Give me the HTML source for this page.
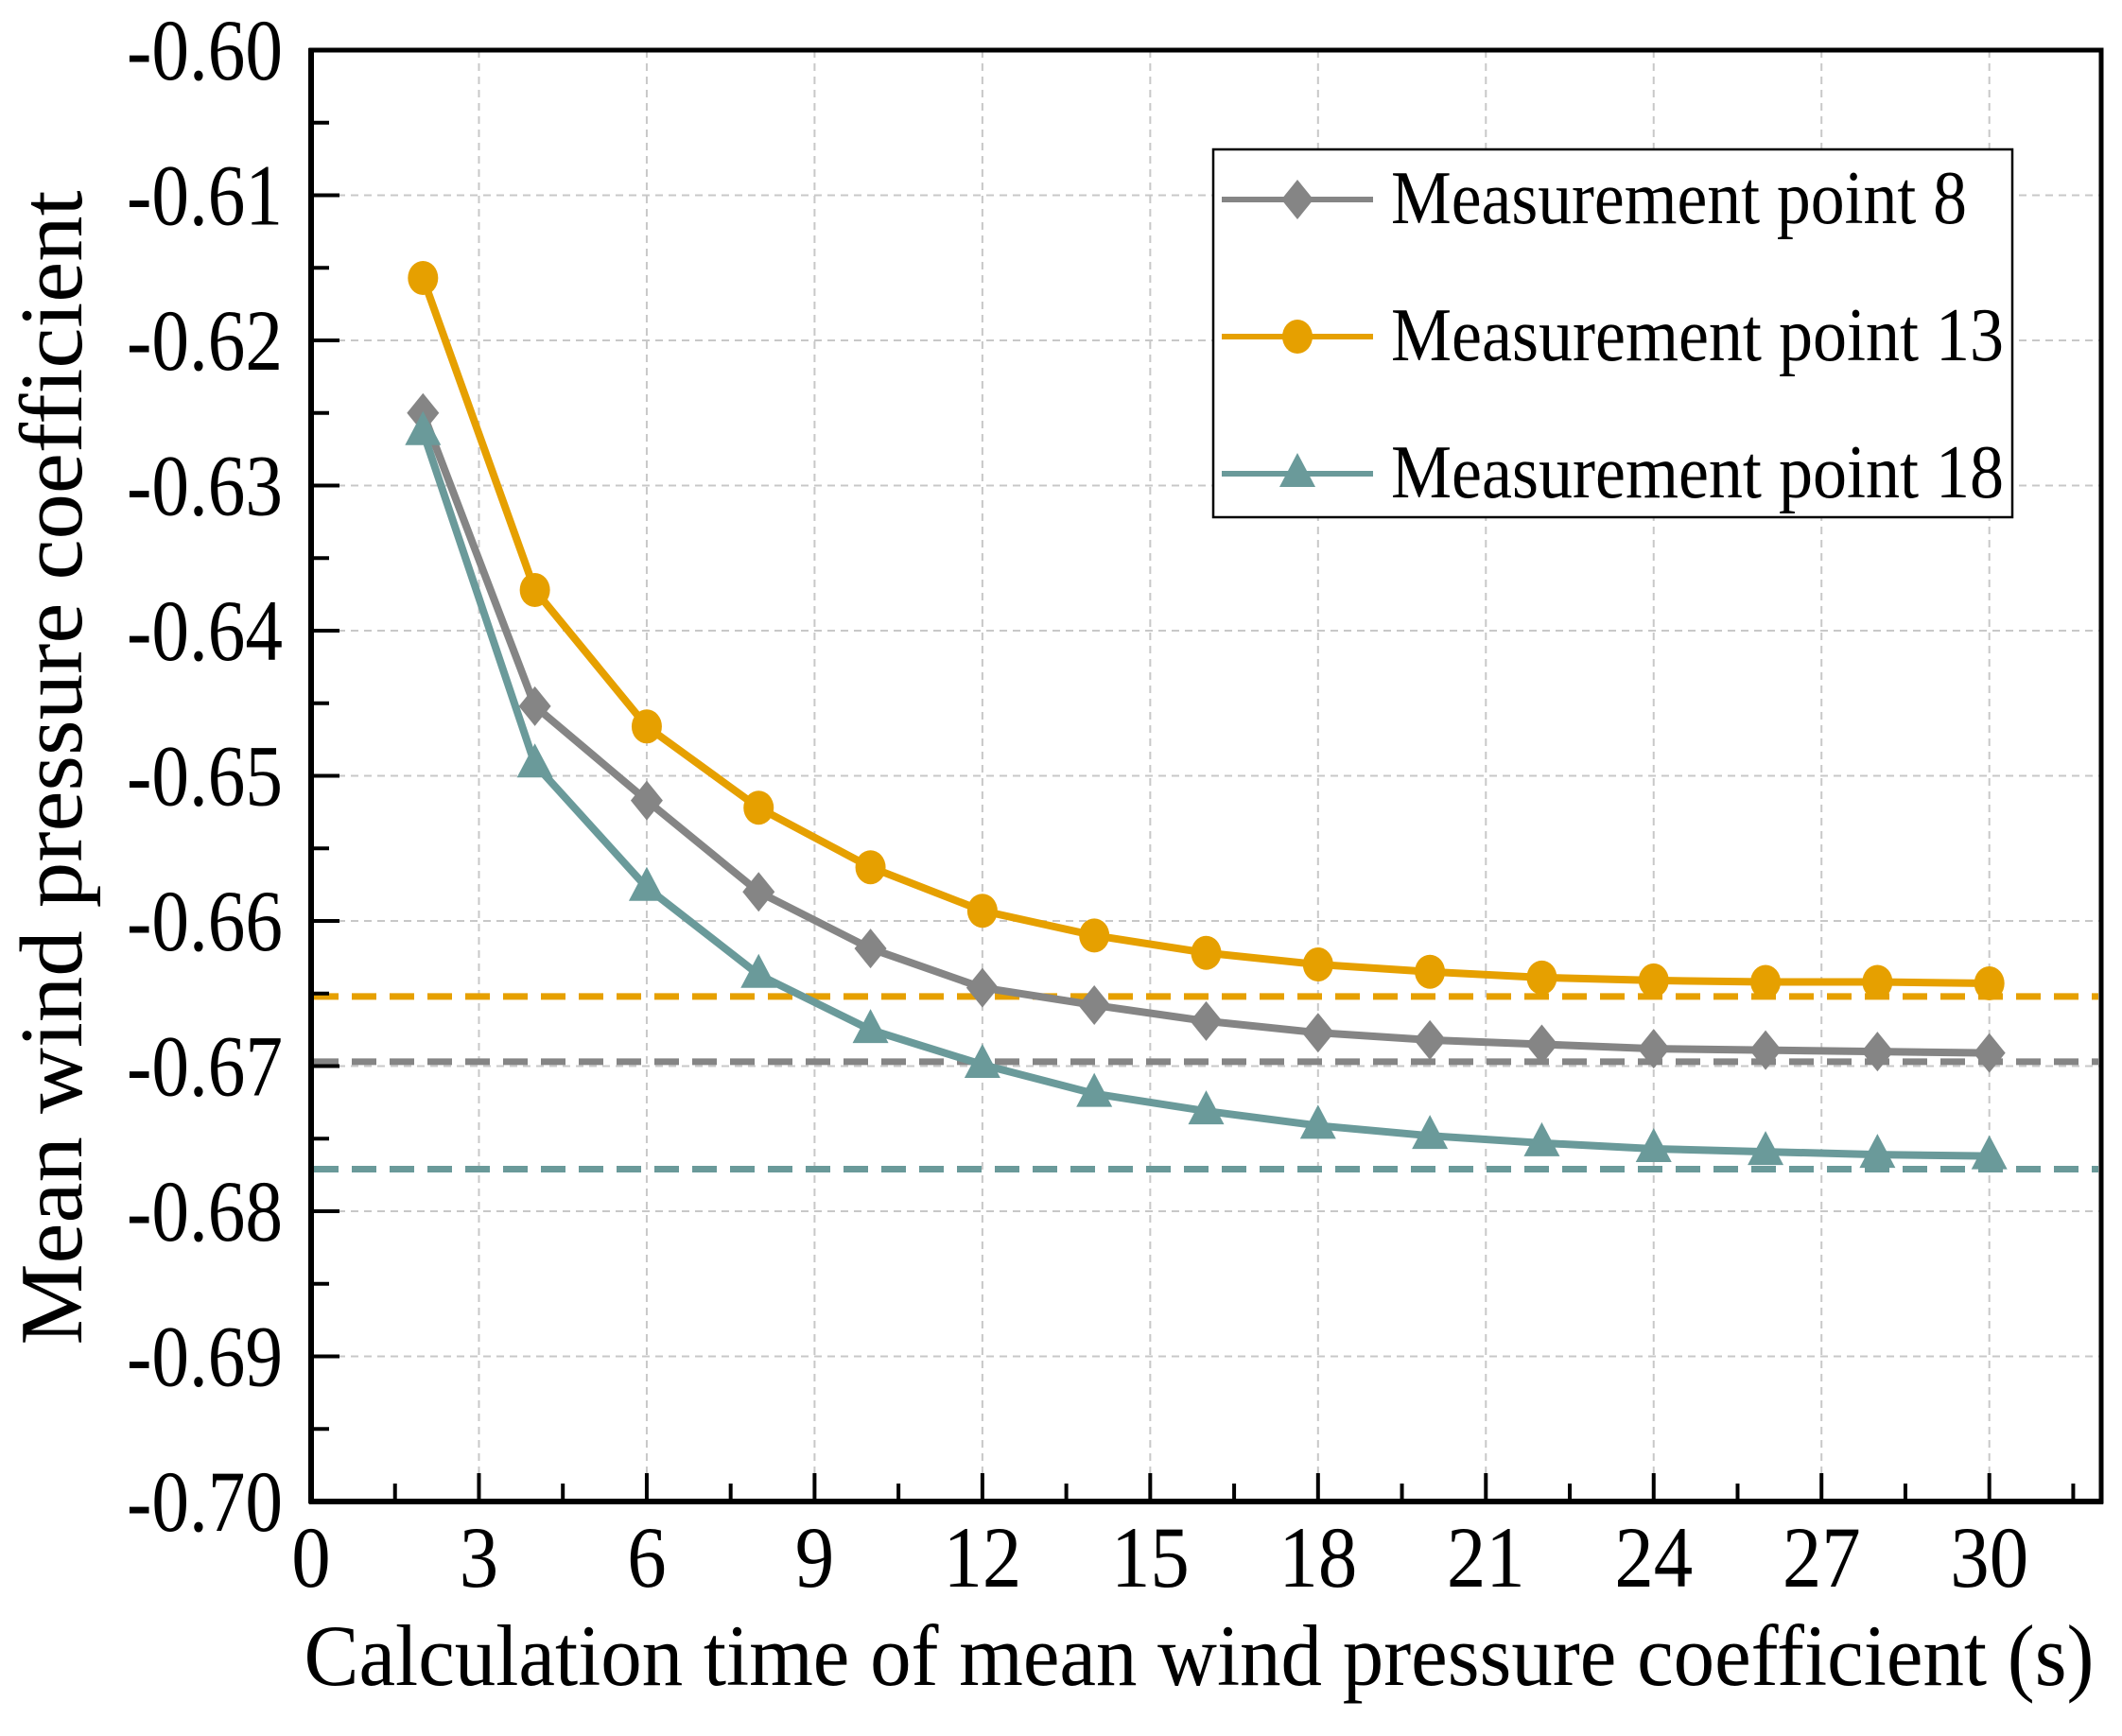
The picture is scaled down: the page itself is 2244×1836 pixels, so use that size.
<!DOCTYPE html>
<html><head><meta charset="utf-8"><style>
html,body{margin:0;padding:0;background:#fff;}
svg{display:block;}
text{font-family:"Liberation Serif","Times New Roman",serif;fill:#000;}
</style></head><body>
<svg id="chart" width="2244" height="1836" viewBox="0 0 2244 1836" xmlns="http://www.w3.org/2000/svg">
<rect width="2244" height="1836" fill="#fff"/>
<g id="grid"></g>
<g id="refs"></g>
<g id="series"></g>
<g id="axes"></g>
<g id="legend"></g>
</svg>
<script>
const xs = [2,4,6,8,10,12,14,16,18,20,22,24,26,28,30];
const p8  = [-0.6250,-0.6452,-0.6517,-0.6580,-0.6619,-0.6646,-0.6658,-0.6669,-0.6677,-0.6682,-0.6685,-0.6688,-0.6689,-0.6690,-0.6691];
const p13 = [-0.6157,-0.6372,-0.6466,-0.6522,-0.6563,-0.6593,-0.6610,-0.6622,-0.6630,-0.6635,-0.6639,-0.6641,-0.6642,-0.6642,-0.6643];
const p18 = [-0.6263,-0.6492,-0.6577,-0.6637,-0.6675,-0.6699,-0.6719,-0.6731,-0.6741,-0.6748,-0.6753,-0.6757,-0.6759,-0.6761,-0.6762];
const refValues = [-0.6652,-0.6697,-0.6771];
const xTicks = [0,3,6,9,12,15,18,21,24,27,30];
const yTicks = [-0.60,-0.61,-0.62,-0.63,-0.64,-0.65,-0.66,-0.67,-0.68,-0.69,-0.70];
const yTickLabels = ["-0.60","-0.61","-0.62","-0.63","-0.64","-0.65","-0.66","-0.67","-0.68","-0.69","-0.70"];
const seriesNames = ["Measurement point 8","Measurement point 13","Measurement point 18"];

const NS="http://www.w3.org/2000/svg";
const L=329,R=2222,T=53,B=1588;
const X0=0,X1=32,Y0=-0.70,Y1=-0.60;
function sx(v){return L+(v-X0)/(X1-X0)*(R-L);}
function sy(v){return B-(v-Y0)/(Y1-Y0)*(B-T);}
function mk(tag,attrs,parent){const e=document.createElementNS(NS,tag);for(const k in attrs)e.setAttribute(k,attrs[k]);parent.appendChild(e);return e;}
const grid=document.getElementById('grid'),refs=document.getElementById('refs'),ser=document.getElementById('series'),axes=document.getElementById('axes'),leg=document.getElementById('legend');
const colors=["#858585","#E6A000","#6A9A9A"];

xTicks.forEach(t=>{if(t===0)return;const l=mk('line',{x1:sx(t),x2:sx(t),y1:T,y2:B,stroke:'#c8c8c8','stroke-width':2,'stroke-dasharray':'8 6'},grid);

});
yTicks.forEach(t=>{if(Math.abs(t-Y0)<1e-9||Math.abs(t-Y1)<1e-9)return;const l=mk('line',{x1:L,x2:R,y1:sy(t),y2:sy(t),stroke:'#c8c8c8','stroke-width':2,'stroke-dasharray':'8 6'},grid);

});

const refOrder=[1,0,2];
refValues.forEach((v,i)=>{const l=mk('line',{x1:L+3,x2:R-3,y1:sy(v),y2:sy(v),stroke:colors[refOrder[i]],'stroke-width':7,'stroke-dasharray':'26 14'},refs);

});

function marker(type,x,y,c,parent){let e;
 if(type===0)e=mk('polygon',{points:`${x},${y-21} ${x+17},${y} ${x},${y+21} ${x-17},${y}`,fill:c},parent);
 else if(type===1)e=mk('ellipse',{cx:x,cy:y,rx:16,ry:18,fill:c},parent);
 else e=mk('polygon',{points:`${x},${y-22} ${x+19},${y+14} ${x-19},${y+14}`,fill:c},parent);
 return e;}

[p8,p13,p18].forEach((arr,si)=>{
 const g=mk('g',{},ser);
 
 
 const pts=xs.map((x,i)=>sx(x)+','+sy(arr[i])).join(' ');
 const pl=mk('polyline',{points:pts,fill:'none',stroke:colors[si],'stroke-width':8,'stroke-linejoin':'round'},g);
 
 
 xs.forEach((x,i)=>{const m=marker(si,sx(x),sy(arr[i]),colors[si],g);
  
  });
});

const fr=mk('rect',{x:L,y:T,width:R-L,height:B-T,fill:'none',stroke:'#000','stroke-width':5},axes);


mk('line',{x1:L,x2:L,y1:T-2,y2:B+2,stroke:'#000','stroke-width':6},axes);
mk('line',{x1:L-2,x2:R+2,y1:B,y2:B,stroke:'#000','stroke-width':6},axes);

for(let v=0;v<=31.5;v+=1.5){const major=Math.abs(v/3-Math.round(v/3))<1e-6;
 const t=mk('line',{x1:sx(v),x2:sx(v),y1:B,y2:B-(major?30:19),stroke:'#000','stroke-width':4},axes);
 
 }
xTicks.forEach(v=>{const tx=mk('text',{transform:`translate(${sx(v)},1678) scale(0.9,1)`,'text-anchor':'middle','font-size':92},axes);tx.textContent=String(v);
 
 });
for(let k=0;k<=20;k++){const v=Y0+k*0.005;const major=k%2===0;
 const t=mk('line',{x1:L,x2:L+(major?30:19),y1:sy(v),y2:sy(v),stroke:'#000','stroke-width':4},axes);
 
 }
yTicks.forEach((v,i)=>{const tx=mk('text',{x:299,y:sy(v)+31,'text-anchor':'end','font-size':92,textLength:165,lengthAdjust:'spacingAndGlyphs'},axes);tx.textContent=yTickLabels[i];
 
 });

const xt=mk('text',{x:1268,y:1782,'text-anchor':'middle','font-size':92,textLength:1893,lengthAdjust:'spacingAndGlyphs'},axes);
xt.textContent='Calculation time of mean wind pressure coefficient (s)';


const yt=mk('text',{transform:'translate(86,812) rotate(-90)','text-anchor':'middle','font-size':94,textLength:1221,lengthAdjust:'spacingAndGlyphs'},axes);
yt.textContent='Mean wind pressure coefficient';



const lb=mk('rect',{x:1283,y:158,width:845,height:389,fill:'#fff',stroke:'#000','stroke-width':2.5},leg);


const ly=[211,356,501];
seriesNames.forEach((n,i)=>{const g=mk('g',{},leg);
 
 
 mk('line',{x1:1292,x2:1452,y1:ly[i],y2:ly[i],stroke:colors[i],'stroke-width':6},g);
 marker(i,1372,ly[i],colors[i],g);
 const tx=mk('text',{x:1471,y:ly[i]+25,'font-size':80,textLength:(i===0?609:648),lengthAdjust:'spacingAndGlyphs'},g);
 tx.textContent=n;
 
 });
</script>
</body></html>
